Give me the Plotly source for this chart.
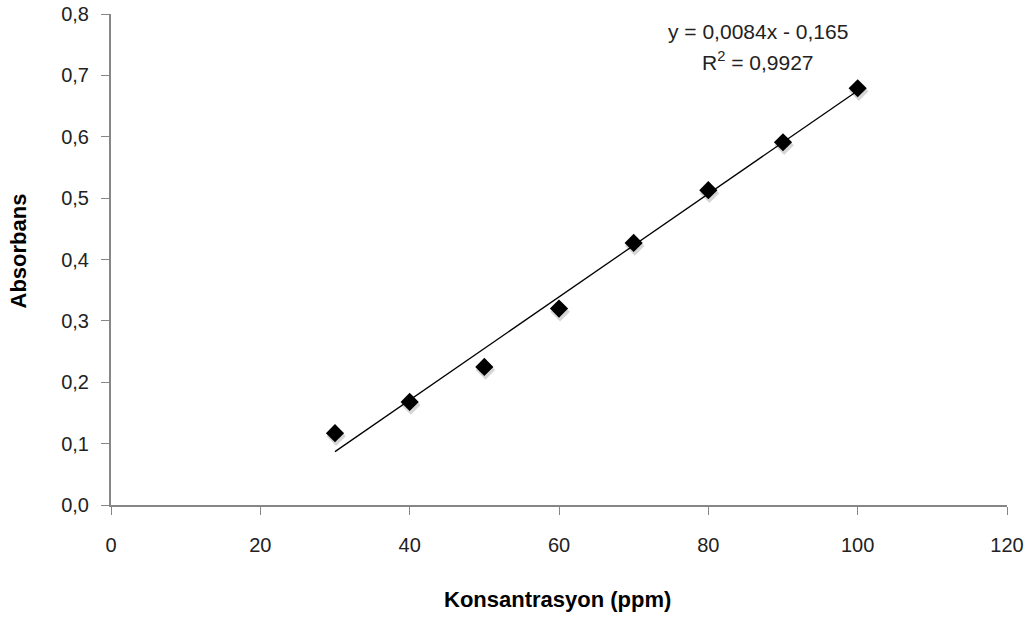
import plotly.graph_objects as go

# Calibration data: concentration (ppm) vs absorbance
konsantrasyon = [30, 40, 50, 60, 70, 80, 90, 100]
absorbans = [0.117, 0.168, 0.225, 0.320, 0.427, 0.513, 0.591, 0.679]

# Linear trendline parameters (as reported in the equation label)
egim = 0.0084
kesisim = -0.165
r_kare = 0.9927

x_ticks = [0, 20, 40, 60, 80, 100, 120]
y_ticks = [0.0, 0.1, 0.2, 0.3, 0.4, 0.5, 0.6, 0.7, 0.8]

trend_x = [min(konsantrasyon), max(konsantrasyon)]
trend_y = [egim * x + kesisim for x in trend_x]

AXIS_GRAY = "#868686"
TICK_FONT = dict(family="Liberation Sans", size=20, color="#222222")

fig = go.Figure()

# soft drop shadow under the markers
fig.add_trace(go.Scatter(
    x=[x + 0.15 for x in konsantrasyon],
    y=[y - 0.005 for y in absorbans],
    mode="markers",
    marker=dict(symbol="diamond", size=15, color="rgba(0,0,0,0.16)", line=dict(width=0)),
    hoverinfo="skip", showlegend=False,
))

fig.add_trace(go.Scatter(
    x=trend_x, y=trend_y, mode="lines",
    line=dict(color="black", width=1.3),
    showlegend=False,
))

fig.add_trace(go.Scatter(
    x=konsantrasyon, y=absorbans, mode="markers",
    marker=dict(symbol="diamond", size=14, color="black", line=dict(width=0)),
    showlegend=False,
))

fig.update_layout(
    width=1032, height=622,
    margin=dict(l=111, r=25, t=14, b=117),
    paper_bgcolor="white", plot_bgcolor="white",
    separators=",.",
    showlegend=False,
    xaxis=dict(
        range=[0, 120], tickvals=x_ticks, ticktext=[str(v) for v in x_ticks],
        showgrid=False, zeroline=False, automargin=False,
        showline=True, linecolor=AXIS_GRAY, linewidth=2,
        ticks="outside", ticklen=8, tickwidth=1, tickcolor=AXIS_GRAY,
        tickfont=TICK_FONT, ticklabelstandoff=13,
    ),
    yaxis=dict(
        range=[0, 0.8], tickvals=y_ticks, tickformat=".1f",
        showgrid=False, zeroline=False, automargin=False,
        showline=True, linecolor=AXIS_GRAY, linewidth=2,
        ticks="outside", ticklen=8, tickwidth=1, tickcolor=AXIS_GRAY,
        tickfont=TICK_FONT, ticklabelstandoff=8,
    ),
    annotations=[
        dict(text="<b>Konsantrasyon (ppm)</b>", xref="paper", yref="paper",
             x=0.498, y=-0.1916, xanchor="center", yanchor="middle", showarrow=False,
             font=dict(family="Liberation Sans", size=22, color="black")),
        dict(text="<b>Absorbans</b>", xref="paper", yref="paper",
             x=-0.1029, y=0.518, xanchor="center", yanchor="middle", showarrow=False,
             textangle=-90,
             font=dict(family="Liberation Sans", size=22, color="black")),
        dict(text="y = 0,0084x - 0,165", xref="x", yref="y",
             x=86.6, y=0.772, xanchor="center", yanchor="middle", showarrow=False,
             font=dict(family="Liberation Sans", size=21, color="#222222")),
        dict(text="R<sup>2</sup> = " + f"{r_kare:.4f}".replace(".", ","), xref="x", yref="y",
             x=86.6, y=0.723, xanchor="center", yanchor="middle", showarrow=False,
             font=dict(family="Liberation Sans", size=21, color="#222222")),
    ],
)

fig.write_html("out.html")
